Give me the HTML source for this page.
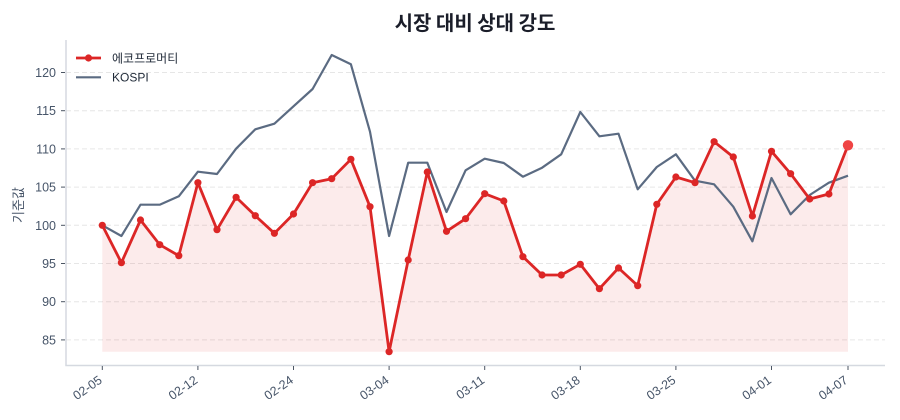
<!DOCTYPE html>
<html><head><meta charset="utf-8"><style>
html,body{margin:0;padding:0;background:#fff;}
svg{display:block;}
text{font-family:"Liberation Sans","Noto Sans CJK KR",sans-serif;}
</style></head><body>
<svg width="900" height="420" viewBox="0 0 900 420" xmlns="http://www.w3.org/2000/svg">
<rect width="900" height="420" fill="#fff"/>
<text x="475" y="30" text-anchor="middle" font-size="20" font-weight="bold" fill="#1a1d29" style="font-family:'Noto Sans CJK KR','Liberation Sans',sans-serif">시장 대비 상대 강도</text>
<g stroke="#e6e6e6" stroke-width="1" stroke-dasharray="5,3">
<line x1="66" x2="885" y1="72.5" y2="72.5"/>
<line x1="66" x2="885" y1="110.7" y2="110.7"/>
<line x1="66" x2="885" y1="148.9" y2="148.9"/>
<line x1="66" x2="885" y1="187.1" y2="187.1"/>
<line x1="66" x2="885" y1="225.3" y2="225.3"/>
<line x1="66" x2="885" y1="263.5" y2="263.5"/>
<line x1="66" x2="885" y1="301.7" y2="301.7"/>
<line x1="66" x2="885" y1="339.9" y2="339.9"/>
</g>
<polygon fill="#dc2626" fill-opacity="0.09" points="102.3,351.7 102.3,225.3 121.4,262.7 140.5,220 159.7,244.7 178.8,255.7 197.9,182.7 217.0,229.7 236.1,197.3 255.3,215.7 274.4,233.3 293.5,214 312.6,182.7 331.7,178.7 350.9,159.3 370.0,206.7 389.1,351.7 408.2,260 427.3,172 446.5,231.3 465.6,218.7 484.7,193.7 503.8,201 522.9,256.7 542.1,275 561.2,275 580.3,264.3 599.4,288.7 618.5,268 637.7,285.7 656.8,204.3 675.9,177 695.0,182.7 714.1,141.7 733.3,157 752.4,216 771.5,151.3 790.6,173.7 809.7,199 828.9,194 848.0,145.3 848.0,351.7"/>
<polyline fill="none" stroke="#5b6b82" stroke-width="2.2" stroke-linejoin="round" points="102.3,225.3 121.4,236 140.5,204.7 159.7,204.7 178.8,196.3 197.9,171.7 217.0,174 236.1,148.7 255.3,129.3 274.4,123.7 293.5,106.3 312.6,89 331.7,55 350.9,64.3 370.0,131.7 389.1,236 408.2,162.7 427.3,162.7 446.5,212 465.6,170.3 484.7,158.7 503.8,163 522.9,176.7 542.1,167.7 561.2,154.3 580.3,112 599.4,136.3 618.5,133.7 637.7,189.3 656.8,167 675.9,154.3 695.0,180.7 714.1,184.3 733.3,206.7 752.4,241.3 771.5,178 790.6,214.3 809.7,195 828.9,182.7 848.0,175.7"/>
<polyline fill="none" stroke="#dc2626" stroke-width="2.8" stroke-linejoin="round" points="102.3,225.3 121.4,262.7 140.5,220 159.7,244.7 178.8,255.7 197.9,182.7 217.0,229.7 236.1,197.3 255.3,215.7 274.4,233.3 293.5,214 312.6,182.7 331.7,178.7 350.9,159.3 370.0,206.7 389.1,351.7 408.2,260 427.3,172 446.5,231.3 465.6,218.7 484.7,193.7 503.8,201 522.9,256.7 542.1,275 561.2,275 580.3,264.3 599.4,288.7 618.5,268 637.7,285.7 656.8,204.3 675.9,177 695.0,182.7 714.1,141.7 733.3,157 752.4,216 771.5,151.3 790.6,173.7 809.7,199 828.9,194 848.0,145.3"/>
<g fill="#dc2626">
<circle cx="102.3" cy="225.3" r="3.6"/><circle cx="121.4" cy="262.7" r="3.6"/><circle cx="140.5" cy="220" r="3.6"/><circle cx="159.7" cy="244.7" r="3.6"/><circle cx="178.8" cy="255.7" r="3.6"/><circle cx="197.9" cy="182.7" r="3.6"/><circle cx="217.0" cy="229.7" r="3.6"/><circle cx="236.1" cy="197.3" r="3.6"/><circle cx="255.3" cy="215.7" r="3.6"/><circle cx="274.4" cy="233.3" r="3.6"/><circle cx="293.5" cy="214" r="3.6"/><circle cx="312.6" cy="182.7" r="3.6"/><circle cx="331.7" cy="178.7" r="3.6"/><circle cx="350.9" cy="159.3" r="3.6"/><circle cx="370.0" cy="206.7" r="3.6"/><circle cx="389.1" cy="351.7" r="3.6"/><circle cx="408.2" cy="260" r="3.6"/><circle cx="427.3" cy="172" r="3.6"/><circle cx="446.5" cy="231.3" r="3.6"/><circle cx="465.6" cy="218.7" r="3.6"/><circle cx="484.7" cy="193.7" r="3.6"/><circle cx="503.8" cy="201" r="3.6"/><circle cx="522.9" cy="256.7" r="3.6"/><circle cx="542.1" cy="275" r="3.6"/><circle cx="561.2" cy="275" r="3.6"/><circle cx="580.3" cy="264.3" r="3.6"/><circle cx="599.4" cy="288.7" r="3.6"/><circle cx="618.5" cy="268" r="3.6"/><circle cx="637.7" cy="285.7" r="3.6"/><circle cx="656.8" cy="204.3" r="3.6"/><circle cx="675.9" cy="177" r="3.6"/><circle cx="695.0" cy="182.7" r="3.6"/><circle cx="714.1" cy="141.7" r="3.6"/><circle cx="733.3" cy="157" r="3.6"/><circle cx="752.4" cy="216" r="3.6"/><circle cx="771.5" cy="151.3" r="3.6"/><circle cx="790.6" cy="173.7" r="3.6"/><circle cx="809.7" cy="199" r="3.6"/><circle cx="828.9" cy="194" r="3.6"/>
</g>
<circle cx="848.0" cy="145.3" r="5.2" fill="#ef4444"/>
<line x1="66" y1="40" x2="66" y2="365.5" stroke="#d5d9e0" stroke-width="1.5"/>
<line x1="65.3" y1="365.5" x2="885" y2="365.5" stroke="#d5d9e0" stroke-width="1.5"/>
<g stroke="#4b5563" stroke-width="1">
<line x1="61" x2="65" y1="72.5" y2="72.5"/><line x1="61" x2="65" y1="110.7" y2="110.7"/><line x1="61" x2="65" y1="148.9" y2="148.9"/><line x1="61" x2="65" y1="187.1" y2="187.1"/><line x1="61" x2="65" y1="225.3" y2="225.3"/><line x1="61" x2="65" y1="263.5" y2="263.5"/><line x1="61" x2="65" y1="301.7" y2="301.7"/><line x1="61" x2="65" y1="339.9" y2="339.9"/>
</g>
<g font-size="12.5" fill="#475569" text-anchor="end">
<text x="56" y="77">120</text><text x="56" y="115.2">115</text><text x="56" y="153.4">110</text><text x="56" y="191.6">105</text><text x="56" y="229.8">100</text><text x="56" y="268">95</text><text x="56" y="306.2">90</text><text x="56" y="344.4">85</text>
</g>
<text transform="translate(23,205) rotate(-90)" text-anchor="middle" font-size="13" fill="#475569">기준값</text>
<g stroke="#4b5563" stroke-width="1">
<line x1="102.3" x2="102.3" y1="366" y2="370"/><line x1="197.9" x2="197.9" y1="366" y2="370"/><line x1="293.5" x2="293.5" y1="366" y2="370"/><line x1="389.1" x2="389.1" y1="366" y2="370"/><line x1="484.7" x2="484.7" y1="366" y2="370"/><line x1="580.3" x2="580.3" y1="366" y2="370"/><line x1="675.9" x2="675.9" y1="366" y2="370"/><line x1="771.5" x2="771.5" y1="366" y2="370"/><line x1="848.0" x2="848.0" y1="366" y2="370"/>
</g>
<g font-size="12.5" fill="#475569" text-anchor="end">
<text transform="translate(103,382) rotate(-35)">02-05</text>
<text transform="translate(198.6,382) rotate(-35)">02-12</text>
<text transform="translate(294.2,382) rotate(-35)">02-24</text>
<text transform="translate(389.8,382) rotate(-35)">03-04</text>
<text transform="translate(485.4,382) rotate(-35)">03-11</text>
<text transform="translate(581,382) rotate(-35)">03-18</text>
<text transform="translate(676.6,382) rotate(-35)">03-25</text>
<text transform="translate(772.2,382) rotate(-35)">04-01</text>
<text transform="translate(848.7,382) rotate(-35)">04-07</text>
</g>
<line x1="76" y1="58" x2="101" y2="58" stroke="#dc2626" stroke-width="2.8"/>
<circle cx="88.5" cy="58" r="3.6" fill="#dc2626"/>
<text x="112" y="62.3" font-size="12" fill="#1f2937">에코프로머티</text>
<line x1="76" y1="77.3" x2="101" y2="77.3" stroke="#5b6b82" stroke-width="2.2"/>
<text x="112" y="81.6" font-size="12" fill="#1f2937">KOSPI</text>
</svg>
</body></html>
